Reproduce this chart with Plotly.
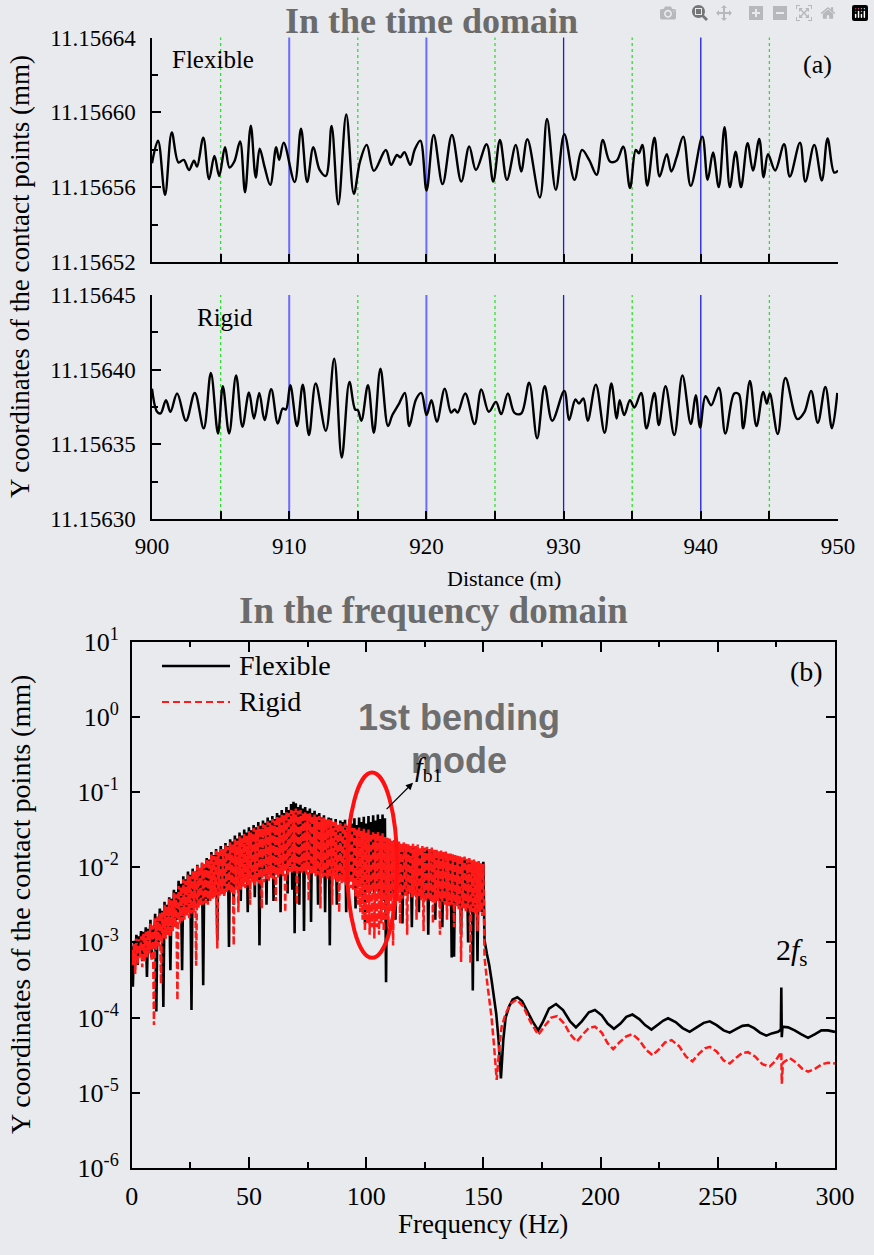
import numpy as np
import plotly.graph_objects as go

# ---------------- time domain data (turning points) ----------------
flex_distance_m = [
    900.0, 900.44, 900.95, 901.44, 901.93, 902.31, 902.70, 903.06, 903.28, 903.74,
    904.16, 904.55, 904.90, 905.32, 905.65, 906.00, 906.42, 906.78, 907.20, 907.56,
    907.85, 908.20, 908.62, 909.05, 909.27, 909.60, 910.40, 910.86, 911.31, 911.76,
    912.22, 912.67, 913.09, 913.58, 914.16, 914.71, 915.16, 915.65, 916.17, 917.04,
    917.43, 917.85, 918.10, 918.40, 918.82, 919.14, 919.56, 920.01, 920.53, 921.18,
    921.86, 922.54, 923.12, 923.61, 924.39, 924.87, 925.36, 925.87, 926.52, 926.91,
    927.36, 928.27, 928.79, 929.43, 930.05, 930.79, 931.34, 931.86, 932.41, 932.86,
    933.38, 933.87, 934.35, 934.84, 935.26, 935.49, 935.74, 936.10, 936.62, 937.00,
    937.52, 937.85, 938.24, 938.72, 939.27, 940.11, 940.50, 940.89, 941.31, 941.73,
    942.12, 942.54, 942.93, 943.41, 943.80, 944.26, 944.58, 944.90, 945.42, 946.07,
    946.49, 947.23, 947.62, 948.27, 948.82, 949.24, 949.72, 950.0,
]
flex_y_mm = [
    11.1565728, 11.1565849, 11.1565559, 11.1565892, 11.1565732, 11.1565746, 11.1565692, 11.1565742, 11.1565710, 11.1565865,
    11.1565643, 11.1565767, 11.1565660, 11.1565813, 11.1565705, 11.1565737, 11.1565844, 11.1565573, 11.1565929, 11.1565652,
    11.1565806, 11.1565710, 11.1565612, 11.1565813, 11.1565746, 11.1565838, 11.1565627, 11.1565913, 11.1565628, 11.1565813,
    11.1565692, 11.1565660, 11.1565927, 11.1565508, 11.1565989, 11.1565564, 11.1565737, 11.1565826, 11.1565687, 11.1565799,
    11.1565719, 11.1565772, 11.1565760, 11.1565787, 11.1565719, 11.1565799, 11.1565849, 11.1565582, 11.1565879, 11.1565616,
    11.1565879, 11.1565630, 11.1565817, 11.1565692, 11.1565829, 11.1565630, 11.1565852, 11.1565639, 11.1565826, 11.1565684,
    11.1565856, 11.1565545, 11.1565964, 11.1565586, 11.1565883, 11.1565639, 11.1565799, 11.1565746, 11.1565666, 11.1565852,
    11.1565737, 11.1565742, 11.1565817, 11.1565595, 11.1565799, 11.1565781, 11.1565826, 11.1565609, 11.1565865, 11.1565657,
    11.1565776, 11.1565684, 11.1565760, 11.1565870, 11.1565607, 11.1565870, 11.1565639, 11.1565785, 11.1565600, 11.1565920,
    11.1565600, 11.1565790, 11.1565600, 11.1565835, 11.1565689, 11.1565858, 11.1565653, 11.1565776, 11.1565689, 11.1565829,
    11.1565657, 11.1565838, 11.1565630, 11.1565826, 11.1565636, 11.1565861, 11.1565678, 11.1565689,
]
rigid_distance_m = [
    900.0, 900.37, 900.63, 901.02, 901.34, 901.83, 902.48, 903.12, 903.77, 904.29,
    904.81, 905.16, 905.62, 906.13, 906.59, 907.07, 907.43, 907.82, 908.20, 908.69,
    909.17, 909.53, 909.76, 910.08, 910.57, 910.99, 911.44, 911.93, 912.67, 913.28,
    913.83, 914.39, 914.81, 915.00, 915.26, 915.74, 916.17, 916.65, 917.20, 917.52,
    918.01, 918.43, 918.75, 919.24, 919.63, 920.01, 920.37, 920.76, 921.34, 921.80,
    922.06, 922.28, 922.83, 923.51, 924.00, 924.55, 925.07, 925.45, 925.94, 926.42,
    926.91, 927.49, 928.07, 928.62, 929.17, 930.05, 930.40, 930.86, 931.12, 931.44,
    931.76, 932.35, 932.99, 933.48, 933.87, 934.09, 934.42, 934.84, 935.16, 935.65,
    936.04, 936.62, 936.94, 937.43, 938.07, 938.66, 939.27, 939.63, 939.95, 940.34,
    940.76, 941.31, 941.79, 942.44, 942.77, 943.09, 943.58, 944.06, 944.55, 944.81,
    945.03, 945.61, 946.17, 947.04, 947.56, 948.04, 948.53, 949.08, 949.56, 949.95,
]
rigid_y_mm = [
    11.1563873, 11.1563718, 11.1563707, 11.1563796, 11.1563718, 11.1563840, 11.1563658, 11.1563844, 11.1563607, 11.1563978,
    11.1563573, 11.1563889, 11.1563573, 11.1563962, 11.1563618, 11.1563847, 11.1563673, 11.1563844, 11.1563662, 11.1563869,
    11.1563640, 11.1563740, 11.1563733, 11.1563896, 11.1563622, 11.1563900, 11.1563562, 11.1563907, 11.1563591, 11.1564073,
    11.1563411, 11.1563918, 11.1563733, 11.1563729, 11.1563658, 11.1563896, 11.1563578, 11.1564007, 11.1563622, 11.1563696,
    11.1563773, 11.1563844, 11.1563622, 11.1563800, 11.1563844, 11.1563696, 11.1563796, 11.1563651, 11.1563873, 11.1563713,
    11.1563733, 11.1563713, 11.1563840, 11.1563636, 11.1563867, 11.1563718, 11.1563784, 11.1563702, 11.1563840, 11.1563711,
    11.1563707, 11.1563913, 11.1563540, 11.1563889, 11.1563658, 11.1563858, 11.1563662, 11.1563800, 11.1563773, 11.1563807,
    11.1563658, 11.1563900, 11.1563578, 11.1563907, 11.1563673, 11.1563796, 11.1563696, 11.1563796, 11.1563747, 11.1563844,
    11.1563607, 11.1563844, 11.1563629, 11.1563889, 11.1563562, 11.1563962, 11.1563636, 11.1563829, 11.1563613, 11.1563822,
    11.1563762, 11.1563880, 11.1563573, 11.1563840, 11.1563836, 11.1563607, 11.1563924, 11.1563622, 11.1563851, 11.1563773,
    11.1563840, 11.1563569, 11.1563944, 11.1563669, 11.1563718, 11.1563858, 11.1563644, 11.1563884, 11.1563607, 11.1563844,
]
marker_lines_m = [905, 910, 915, 920, 925, 930, 935, 940, 945]
marker_line_kind = ["green", "blue", "green", "blue", "green", "navy", "green", "navy", "green"]

# ---------------- frequency domain data (log10 of amplitude, read from the log axis) ----------------
# spectral peaks at whole Hz (0..150) and troughs between them (0.5..149.5)
flex_band_peak_log10 = [
    -3.05, -2.98, -2.9, -2.92, -2.85, -2.86, -2.8, -2.82, -2.7, -2.78,
    -2.62, -2.66, -2.55, -2.58, -2.46, -2.5, -2.4, -2.42, -2.3, -2.33,
    -2.18, -2.22, -2.12, -2.16, -2.06, -2.1, -2.02, -2.06, -1.97, -2.02,
    -1.95, -1.96, -1.88, -1.9, -1.8, -1.84, -1.76, -1.8, -1.72, -1.76,
    -1.68, -1.72, -1.63, -1.66, -1.58, -1.62, -1.54, -1.58, -1.5, -1.54,
    -1.47, -1.51, -1.44, -1.47, -1.4, -1.45, -1.38, -1.41, -1.34, -1.38,
    -1.32, -1.36, -1.28, -1.31, -1.24, -1.28, -1.2, -1.24, -1.16, -1.13,
    -1.15, -1.2, -1.17, -1.22, -1.2, -1.25, -1.22, -1.28, -1.25, -1.3,
    -1.28, -1.34, -1.31, -1.37, -1.34, -1.35, -1.42, -1.36, -1.44, -1.38,
    -1.4, -1.37, -1.45, -1.36, -1.42, -1.35, -1.44, -1.34, -1.4, -1.33,
    -1.42, -1.32, -1.4, -1.31, -1.38, -1.3, -1.36, -1.3, -1.35, -1.62,
    -1.64, -1.68, -1.66, -1.7, -1.68, -1.72, -1.7, -1.74, -1.72, -1.75,
    -1.73, -1.77, -1.74, -1.78, -1.75, -1.79, -1.76, -1.8, -1.78, -1.82,
    -1.79, -1.83, -1.81, -1.85, -1.82, -1.86, -1.84, -1.88, -1.86, -1.9,
    -1.88, -1.91, -1.89, -1.93, -1.9, -1.94, -1.92, -1.95, -1.93, -1.96,
    -1.93,
]
flex_band_trough_log10 = [
    -3.59, -3.2, -3.3, -3.1, -3.25, -3.15, -3.46, -3.1, -3.2, -3.0,
    -3.92, -3.0, -2.95, -3.86, -2.9, -2.85, -3.37, -2.8, -2.75, -2.7,
    -2.68, -3.37, -2.6, -2.62, -2.55, -3.9, -2.5, -2.52, -2.48, -2.45,
    -3.57, -2.42, -2.45, -2.4, -2.38, -2.35, -2.98, -2.32, -2.3, -2.35,
    -2.28, -3.06, -2.25, -2.5, -2.22, -2.25, -2.45, -2.22, -2.18, -2.6,
    -2.15, -2.18, -2.4, -2.15, -3.04, -2.1, -2.12, -2.5, -2.1, -2.05,
    -2.45, -2.05, -2.02, -2.6, -2.0, -2.02, -2.35, -2.0, -2.3, -2.88,
    -2.0, -2.5, -2.02, -2.85, -2.0, -2.02, -2.73, -2.05, -2.02, -2.5,
    -2.05, -2.08, -2.6, -2.1, -3.04, -2.1, -2.12, -2.5, -2.14, -2.12,
    -2.15, -2.6, -2.18, -2.16, -2.2, -2.55, -2.2, -2.25, -2.4, -2.75,
    -2.3, -2.35, -2.3, -2.35, -2.32, -2.4, -2.35, -2.45, -3.53, -2.4,
    -2.35, -2.4, -2.7, -2.38, -2.33, -2.75, -2.34, -2.38, -2.35, -2.8,
    -2.36, -2.4, -2.6, -2.42, -2.4, -2.44, -2.9, -2.45, -2.42, -2.7,
    -2.42, -2.46, -2.8, -2.48, -2.45, -2.5, -3.2, -3.19, -2.48, -2.5,
    -2.9, -2.52, -2.5, -3.0, -2.52, -3.64, -2.55, -3.25, -2.55, -2.6,
]
rigid_band_peak_log10 = [
    -3.1, -3.02, -2.95, -2.96, -2.92, -2.88, -2.86, -2.84, -2.75, -2.78,
    -2.68, -2.66, -2.6, -2.6, -2.5, -2.52, -2.42, -2.44, -2.34, -2.36,
    -2.25, -2.26, -2.16, -2.18, -2.1, -2.12, -2.04, -2.06, -1.98, -2.0,
    -1.94, -1.96, -1.89, -1.9, -1.83, -1.85, -1.78, -1.8, -1.74, -1.76,
    -1.71, -1.73, -1.67, -1.69, -1.63, -1.65, -1.59, -1.61, -1.55, -1.58,
    -1.52, -1.54, -1.48, -1.5, -1.45, -1.48, -1.42, -1.44, -1.39, -1.41,
    -1.36, -1.38, -1.32, -1.34, -1.29, -1.31, -1.26, -1.28, -1.24, -1.25,
    -1.22, -1.25, -1.24, -1.27, -1.26, -1.29, -1.28, -1.31, -1.3, -1.33,
    -1.32, -1.35, -1.34, -1.37, -1.36, -1.37, -1.4, -1.39, -1.42, -1.4,
    -1.44, -1.42, -1.46, -1.44, -1.48, -1.46, -1.5, -1.47, -1.52, -1.49,
    -1.54, -1.5, -1.55, -1.52, -1.56, -1.53, -1.58, -1.55, -1.6, -1.61,
    -1.62, -1.65, -1.64, -1.67, -1.66, -1.68, -1.67, -1.69, -1.68, -1.7,
    -1.69, -1.72, -1.7, -1.73, -1.72, -1.74, -1.73, -1.76, -1.74, -1.77,
    -1.76, -1.79, -1.77, -1.8, -1.79, -1.82, -1.8, -1.83, -1.82, -1.85,
    -1.84, -1.87, -1.86, -1.89, -1.88, -1.91, -1.9, -1.93, -1.92, -1.95,
    -1.96,
]
rigid_band_trough_log10 = [
    -3.3, -3.42, -3.3, -3.2, -3.33, -3.25, -3.2, -3.15, -3.25, -4.1,
    -3.1, -3.05, -3.55, -2.95, -2.95, -2.9, -2.92, -2.85, -2.8, -3.77,
    -2.75, -2.72, -2.7, -2.65, -2.68, -2.62, -2.6, -3.31, -2.55, -2.52,
    -2.5, -2.48, -2.5, -2.45, -2.42, -2.4, -3.08, -2.38, -2.36, -2.4,
    -2.34, -2.32, -2.35, -3.04, -2.3, -2.6, -2.3, -2.26, -2.28, -2.24,
    -2.5, -2.22, -2.24, -2.2, -2.22, -2.55, -2.2, -2.16, -2.18, -2.14,
    -2.16, -2.45, -2.14, -2.1, -2.12, -2.6, -2.1, -2.06, -2.08, -2.05,
    -2.5, -2.05, -2.08, -2.06, -2.1, -2.45, -2.1, -2.08, -2.12, -2.1,
    -2.55, -2.14, -2.12, -2.16, -2.14, -2.5, -2.16, -2.2, -2.6, -2.22,
    -2.2, -2.24, -2.22, -2.28, -2.3, -2.4, -2.5, -2.6, -2.7, -2.85,
    -2.75, -2.9, -2.8, -2.95, -2.8, -2.9, -2.75, -2.85, -2.7, -2.8,
    -2.6, -3.04, -2.5, -2.45, -2.75, -2.42, -2.38, -2.9, -2.36, -2.4,
    -2.38, -2.7, -2.4, -2.44, -2.85, -2.46, -2.42, -2.46, -2.75, -2.48,
    -2.45, -2.9, -2.46, -2.5, -2.7, -2.52, -2.5, -2.8, -2.52, -2.56,
    -3.26, -2.55, -2.6, -2.55, -3.28, -2.6, -2.62, -2.85, -2.6, -2.65,
]
flex_tail_freq_hz = [
    150.5, 151.5, 152.5, 153.5, 154.5, 155.5, 156.5, 157.5, 158.5, 159.5,
    161.0, 162.5, 164.5, 166.5, 168.5, 171.0, 173.4, 175.5, 178.0, 181.0,
    184.0, 187.0, 189.5, 192.0, 195.0, 197.6, 200.5, 203.0, 205.7, 208.5,
    211.0, 213.6, 216.5, 219.0, 221.7, 224.5, 226.8, 228.8, 232.0, 235.0,
    238.0, 241.0, 244.0, 246.6, 249.5, 252.5, 255.1, 258.0, 260.5, 262.9,
    265.5, 268.0, 270.7, 273.0, 275.7, 276.9, 277.1, 277.3, 277.6, 280.0,
    282.8, 285.5, 288.5, 291.5, 294.2, 297.0, 300.0,
]
flex_tail_log10 = [
    -2.97, -3.15, -3.3, -3.5, -3.7, -3.95, -4.3, -4.81, -4.3, -4.0,
    -3.85, -3.76, -3.73, -3.78, -3.9, -4.05, -4.17, -4.05, -3.88, -3.82,
    -3.9, -4.05, -4.13, -4.05, -3.93, -3.9, -3.97, -4.08, -4.15, -4.08,
    -3.99, -3.96, -4.02, -4.1, -4.16, -4.1, -4.04, -4.01, -4.06, -4.14,
    -4.19, -4.13, -4.07, -4.05, -4.1, -4.17, -4.2, -4.15, -4.11, -4.1,
    -4.14, -4.2, -4.24, -4.21, -4.19, -4.16, -3.6, -4.26, -4.12, -4.13,
    -4.17, -4.22, -4.27, -4.22, -4.17, -4.17, -4.19,
]
rigid_tail_freq_hz = [
    150.5, 151.5, 152.5, 153.5, 154.5, 155.7, 156.8, 157.8, 159.5, 161.5,
    164.2, 167.0, 170.0, 173.4, 176.5, 179.0, 181.5, 184.5, 187.0, 189.8,
    192.5, 195.0, 197.6, 200.5, 203.0, 205.4, 208.0, 211.0, 213.6, 216.5,
    219.5, 222.2, 225.0, 227.5, 230.3, 233.5, 236.5, 239.2, 242.0, 244.5,
    246.6, 249.5, 252.5, 255.1, 258.0, 260.5, 262.9, 266.0, 269.0, 272.2,
    274.5, 276.5, 277.1, 277.3, 277.8, 280.7, 283.5, 286.0, 288.5, 291.5,
    294.5, 297.0, 300.0,
]
rigid_tail_log10 = [
    -3.2, -3.5, -3.75, -4.0, -4.35, -4.83, -4.4, -4.12, -3.95, -3.82,
    -3.76, -3.85, -4.05, -4.23, -4.1, -4.0, -3.98, -4.08, -4.22, -4.32,
    -4.22, -4.14, -4.12, -4.2, -4.34, -4.42, -4.33, -4.25, -4.22, -4.3,
    -4.43, -4.5, -4.42, -4.33, -4.3, -4.38, -4.52, -4.58, -4.48, -4.41,
    -4.39, -4.45, -4.57, -4.61, -4.53, -4.47, -4.46, -4.52, -4.62, -4.65,
    -4.58, -4.5, -4.46, -4.88, -4.6, -4.54, -4.6, -4.68, -4.72, -4.68,
    -4.62, -4.6, -4.61,
]
band_peak_freq_hz = list(range(0, 151))
band_trough_freq_hz = [k + 0.5 for k in range(150)]

y_ticks_log10 = [-6, -5, -4, -3, -2, -1, 0, 1]
x_ticks_hz = [0, 50, 100, 150, 200, 250, 300]
x_minor_hz = [25, 75, 125, 175, 225, 275]
dist_ticks_m = [900, 910, 920, 930, 940, 950]
dist_minor_m = [905, 915, 925, 935, 945]
flex_ticks = [11.15652, 11.15656, 11.15660, 11.15664]
flex_minor = [11.15654, 11.15658, 11.15662]
rigid_ticks = [11.15630, 11.15635, 11.15640, 11.15645]
rigid_minor = [11.156325, 11.156375, 11.156425]

# highlighted first bending mode region (Hz, log10 amplitude) and arrow to the f_b1 label
mode_ellipse_hz = [91.9, 113.2]
mode_ellipse_log10 = [-3.205, -0.743]
fb1_arrow_tail = (108.1, -1.249)
fb1_arrow_head = (120.0, -0.877)
freq_log_range = [-6, 1]


def spectrum(peaks, troughs, tail_f, tail_v):
    f, v = [], []
    for k in range(150):
        f += [band_peak_freq_hz[k], band_trough_freq_hz[k]]
        v += [peaks[k], troughs[k]]
    f.append(band_peak_freq_hz[150])
    v.append(peaks[150])
    f += tail_f
    v += tail_v
    return f, (10.0 ** np.array(v)).tolist()


flex_f, flex_amp = spectrum(flex_band_peak_log10, flex_band_trough_log10, flex_tail_freq_hz, flex_tail_log10)
rigid_f, rigid_amp = spectrum(rigid_band_peak_log10, rigid_band_trough_log10, rigid_tail_freq_hz, rigid_tail_log10)

# ---------------- figure ----------------
W, H = 874, 1255
SERIF = "Liberation Serif, Times New Roman, serif"
SANS = "Liberation Sans, Arial, sans-serif"
BG = "#e9eaee"
RED = "#ff1a1a"


def px(x):
    return x / W


def py(y):
    return 1 - y / H


fig = go.Figure()
fig.add_trace(go.Scatter(x=flex_distance_m, y=flex_y_mm, mode="lines",
                         line=dict(color="black", width=2.4, shape="spline"),
                         xaxis="x", yaxis="y", name="Flexible"))
fig.add_trace(go.Scatter(x=rigid_distance_m, y=rigid_y_mm, mode="lines",
                         line=dict(color="black", width=2.4, shape="spline"),
                         xaxis="x2", yaxis="y2", name="Rigid"))
fig.add_trace(go.Scatter(x=flex_f, y=flex_amp, mode="lines", line=dict(color="black", width=2.6),
                         xaxis="x3", yaxis="y3", name="Flexible"))
fig.add_trace(go.Scatter(x=rigid_f, y=rigid_amp, mode="lines", line=dict(color=RED, width=2.5, dash="7px,3px"),
                         xaxis="x3", yaxis="y3", name="Rigid"))

axis_common = dict(showline=True, linecolor="black", linewidth=1.5, showgrid=False, zeroline=False,
                   ticks="inside", tickcolor="black", tickwidth=1.5, automargin=False)
tick_font_time = dict(family=SERIF, size=23, color="black")
tick_font_freq = dict(family=SERIF, size=26, color="black")


def minor(vals, length):
    return dict(tickvals=vals, ticks="inside", ticklen=length, tickcolor="black", tickwidth=1.5, showgrid=False)


x_dom_time = [px(152), px(838)]
layout_axes = dict(
    xaxis=dict(domain=x_dom_time, range=[900, 950], anchor="y", tickvals=dist_ticks_m, showticklabels=False,
               ticklen=8, minor=minor(dist_minor_m, 8), **axis_common),
    yaxis=dict(domain=[py(262), py(37.5)], range=[11.15652, 11.15664], anchor="x",
               tickvals=flex_ticks, ticktext=["%.5f" % t for t in flex_ticks], ticklen=9,
               tickfont=tick_font_time, ticklabelstandoff=10, minor=minor(flex_minor, 6), **axis_common),
    xaxis2=dict(domain=x_dom_time, range=[900, 950], anchor="y2", tickvals=dist_ticks_m,
                ticktext=[str(t) for t in dist_ticks_m], tickfont=tick_font_time, ticklen=8, ticklabelstandoff=6,
                minor=minor(dist_minor_m, 8), **axis_common),
    yaxis2=dict(domain=[py(519), py(295)], range=[11.15630, 11.15645], anchor="x2",
                tickvals=rigid_ticks, ticktext=["%.5f" % t for t in rigid_ticks], ticklen=9,
                tickfont=tick_font_time, ticklabelstandoff=10, minor=minor(rigid_minor, 6), **axis_common),
    xaxis3=dict(domain=[px(131.7), px(835)], range=[0, 300], anchor="y3", mirror="ticks",
                tickvals=x_ticks_hz, ticktext=[str(t) for t in x_ticks_hz], tickfont=tick_font_freq,
                ticklen=11, ticklabelstandoff=4, minor=minor(x_minor_hz, 6), **axis_common),
    yaxis3=dict(domain=[py(1168), py(641.5)], type="log", range=freq_log_range, anchor="x3", mirror="ticks",
                tickvals=[10.0 ** e for e in y_ticks_log10],
                ticktext=["10<sup>%d</sup>" % e for e in y_ticks_log10],
                tickfont=tick_font_freq, ticklen=9, ticklabelstandoff=6, **axis_common),
)

shapes = []
line_styles = {
    "green": dict(color="#2ee02e", width=1.3, dash="dot"),
    "blue": dict(color="#6b6bff", width=2.0),
    "navy": dict(color="#1a1ae0", width=1.3),
}
for d, kind in zip(marker_lines_m, marker_line_kind):
    for xr, yr in (("x", "y domain"), ("x2", "y2 domain")):
        shapes.append(dict(type="line", xref=xr, yref=yr, x0=d, x1=d, y0=0, y1=1,
                           line=line_styles[kind], layer="below"))


def log_to_domain(v):
    return (v - freq_log_range[0]) / (freq_log_range[1] - freq_log_range[0])


# red ellipse around the first bending mode
shapes.append(dict(type="circle", xref="x3", yref="y3 domain",
                   x0=mode_ellipse_hz[0], x1=mode_ellipse_hz[1],
                   y0=log_to_domain(mode_ellipse_log10[0]), y1=log_to_domain(mode_ellipse_log10[1]),
                   line=dict(color="#ff1010", width=4), layer="above"))
# legend samples
shapes.append(dict(type="line", xref="paper", yref="paper", x0=px(162), x1=px(230), y0=py(666), y1=py(666),
                   line=dict(color="black", width=2.5)))
shapes.append(dict(type="line", xref="paper", yref="paper", x0=px(162), x1=px(230), y0=py(702), y1=py(702),
                   line=dict(color=RED, width=2.2, dash="7px,4px")))


def txt(text, x, y, size, family=SERIF, color="black", xanchor="center", angle=0):
    return dict(text=text, x=px(x), y=py(y), xref="paper", yref="paper", showarrow=False,
                font=dict(family=family, size=size, color=color), xanchor=xanchor, yanchor="middle",
                textangle=angle)


annotations = [
    txt("<b>In the time domain</b>", 431, 21, 36, color="#6b6b6b"),
    txt("<b>In the frequency domain</b>", 433, 611, 37, color="#6b6b6b"),
    txt("Y coordinates of the contact points (mm)", 20, 277, 27, angle=-90),
    txt("Y coordinates of the contact points (mm)", 20, 905, 28, angle=-90),
    txt("Distance (m)", 504, 578, 22),
    txt("Frequency (Hz)", 483, 1224, 27),
    txt("Flexible", 213, 59, 25),
    txt("Rigid", 225, 318, 25),
    txt("(a)", 817.5, 65, 26),
    txt("(b)", 806.5, 671.5, 28),
    txt("Flexible", 237, 665, 28, xanchor="left"),
    txt("Rigid", 237, 701, 28, xanchor="left"),
    txt("<b>1st bending</b>", 459.5, 717, 36, family=SANS, color="#6e6e6e"),
    txt("<b>mode</b>", 459, 760, 36, family=SANS, color="#6e6e6e"),
    txt("<i>f</i><sub>b1</sub>", 428, 768, 28),
    txt("2<i>f</i><sub>s</sub>", 792, 952, 30),
    dict(x=fb1_arrow_head[0], y=fb1_arrow_head[1], xref="x3", yref="y3",
         ax=fb1_arrow_tail[0], ay=fb1_arrow_tail[1], axref="x3", ayref="y3",
         text="", showarrow=True, arrowhead=2, arrowsize=1.2, arrowwidth=1.2, arrowcolor="black"),
]

fig.update_layout(
    template="none",
    width=W, height=H, margin=dict(l=0, r=0, t=0, b=0, pad=0, autoexpand=False), showlegend=False,
    paper_bgcolor=BG, plot_bgcolor=BG, shapes=shapes, annotations=annotations,
    font=dict(family=SERIF, color="black"), **layout_axes,
)

fig.write_html("out.html", post_script="document.body.style.margin='0';document.body.style.padding='0';")
